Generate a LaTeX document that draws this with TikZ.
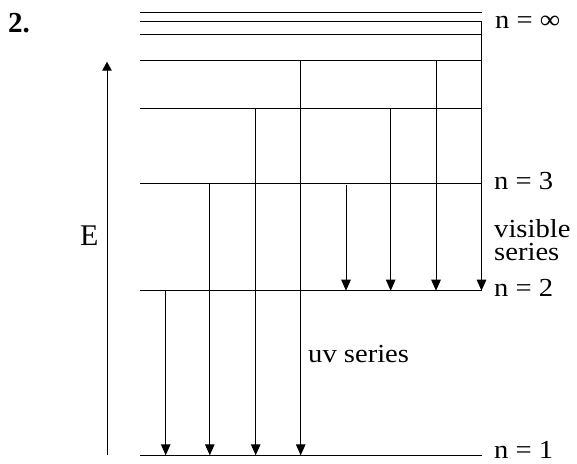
\documentclass[tikz,border=0pt]{standalone}
\usepackage{fontspec}
\setmainfont{Liberation Serif}
\newfontfamily\lblfont{Liberation Serif}[FakeStretch=1.1]
\usetikzlibrary{arrows.meta}
\tikzset{
  level/.style={line width=1pt},
  trans/.style={line width=1pt,-{Triangle[length=11pt,width=9.5pt]}},
  lbl/.style={anchor=base west,inner sep=0pt,font=\lblfont\fontsize{26}{23}\selectfont},
  tight/.style={text height=17pt,text depth=3pt},
}
\begin{document}
\begin{tikzpicture}[x=1pt,y=-1pt]
\useasboundingbox (0,0) rectangle (577,463);
% level ends
\coordinate (Ia) at (140,12.5);   \coordinate (Ib) at (482,12.5);
\coordinate (Ja) at (140,21.7);   \coordinate (Jb) at (481.5,21.7);
\coordinate (Ka) at (140,34.5);   \coordinate (Kb) at (481.5,34.5);
\coordinate (L5a) at (140,60.7);  \coordinate (L5b) at (481.5,60.7);
\coordinate (L4a) at (140,108.7); \coordinate (L4b) at (481.5,108.7);
\coordinate (L3a) at (140,183.3); \coordinate (L3b) at (481.5,183.3);
\coordinate (L2a) at (140,290.7); \coordinate (L2b) at (481.5,290.7);
\coordinate (L1a) at (140,455.3); \coordinate (L1b) at (481.5,455.3);
\foreach \a/\b in {Ia/Ib,Ja/Jb,Ka/Kb,L5a/L5b,L4a/L4b,L3a/L3b,L2a/L2b,L1a/L1b}
  \draw[level] (\a) -- (\b);
% transitions: start / end coordinates
\coordinate (s1) at (165.7,290.7); \coordinate (e1) at (165.7,455.3);
\coordinate (s2) at (209.8,183.3); \coordinate (e2) at (209.8,455.3);
\coordinate (s3) at (255.7,108.7); \coordinate (e3) at (255.7,455.3);
\coordinate (s4) at (300.7,60.7);  \coordinate (e4) at (300.7,455.3);
\coordinate (s5) at (346,185);     \coordinate (e5) at (346,290.7);
\coordinate (s6) at (390.7,108.7); \coordinate (e6) at (390.7,290.7);
\coordinate (s7) at (436,60.7);    \coordinate (e7) at (436,290.7);
\coordinate (s8) at (481.5,21.7);  \coordinate (e8) at (481.5,290.7);
\foreach \i in {1,...,8}
  \draw[trans] (s\i) -- (e\i);
% energy axis
\coordinate (Ebot) at (107,455.3);
\coordinate (Etop) at (107,61.7);
\draw[line width=1pt,-{Triangle[length=9pt,width=9.5pt]}] (Ebot) -- (Etop);
\node[anchor=base west,inner sep=0pt,font=\fontsize{30}{30}\selectfont] (E) at (80,245) {E};
% labels
\node[anchor=base west,inner sep=0pt,font=\bfseries\fontsize{29}{29}\selectfont] (num) at (8,32) {2.};
\node[lbl] (ninf) at (495,28) {n = ∞};
\node[lbl] (n3) at (494,189.3) {n = 3};
\node[lbl,tight] (vis) at (494,237.3) {visible};
\node[lbl,tight] (ser) at (494,260) {series};
\node[lbl] (n2) at (494,296.7) {n = 2};
\node[lbl,text depth=0pt] (n1) at (494,458.5) {n = 1};
\node[lbl] (uv) at (308,362) {uv series};
\end{tikzpicture}
\end{document}
